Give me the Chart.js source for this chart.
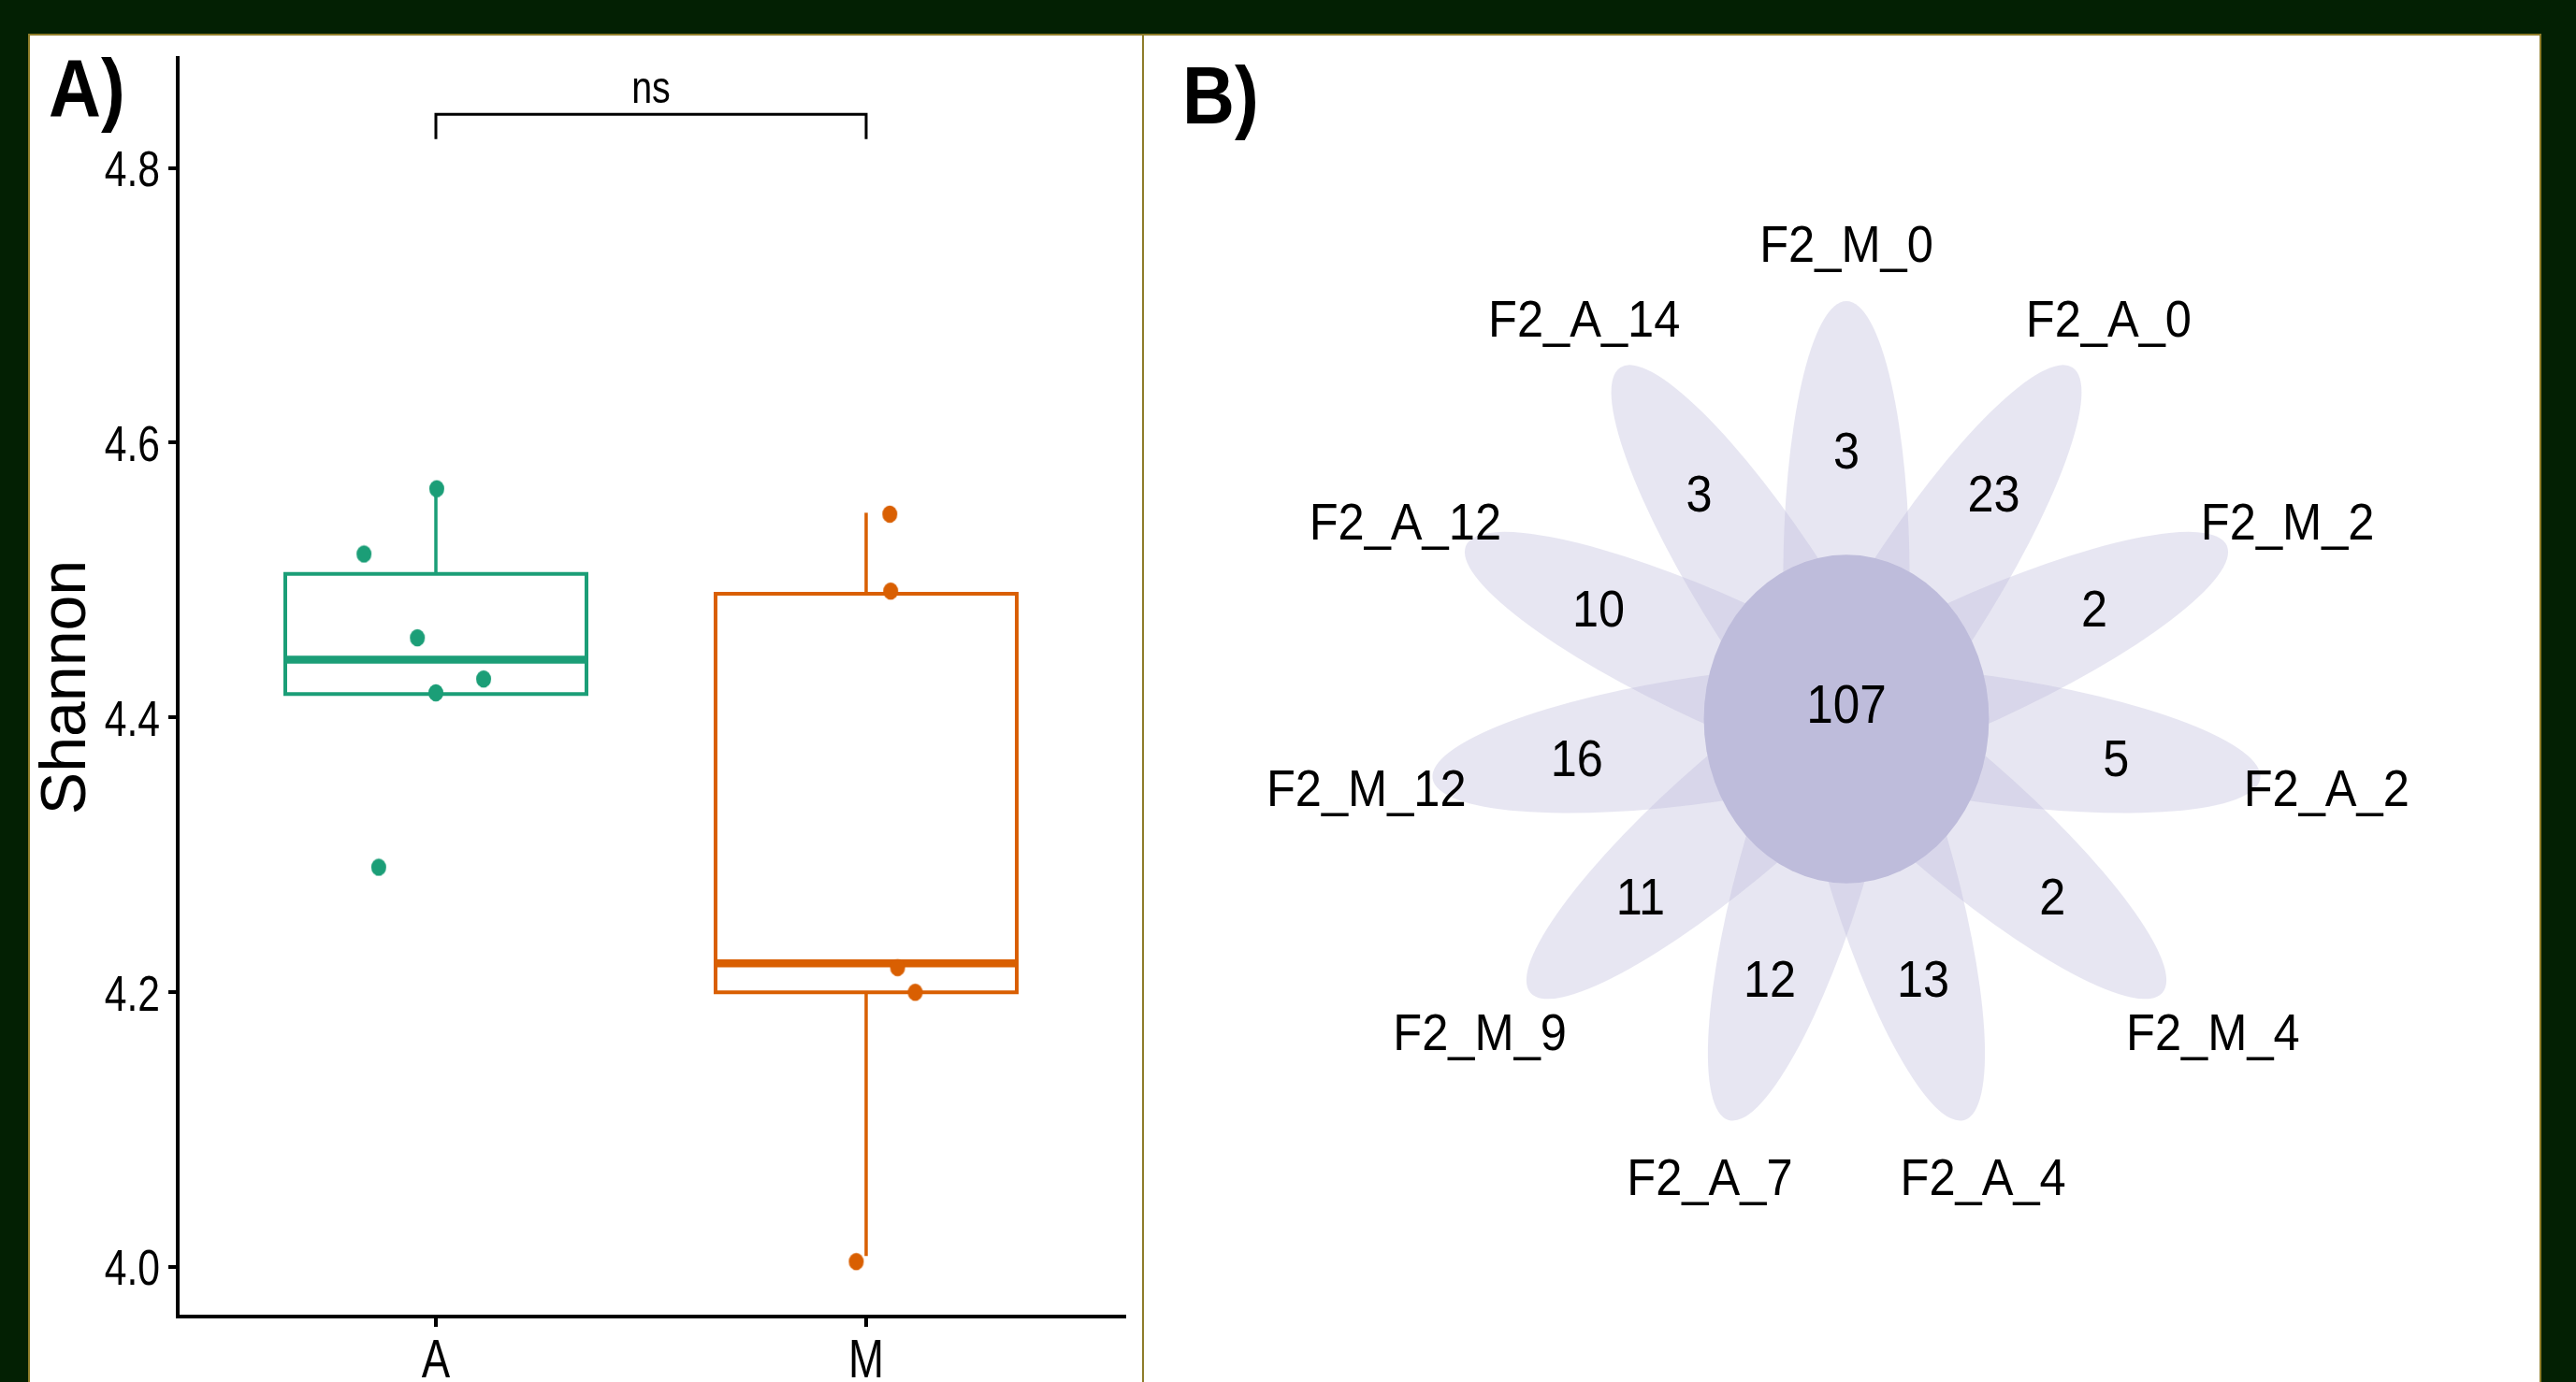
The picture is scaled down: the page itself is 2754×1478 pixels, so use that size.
<!DOCTYPE html>
<html><head><meta charset="utf-8">
<script src="https://cdn.jsdelivr.net/npm/chart.js@4.4.1/dist/chart.umd.min.js"></script>
<style>
html,body{margin:0;padding:0;background:#032003;width:2754px;height:1478px;overflow:hidden;}
#panel{position:absolute;left:30px;top:36px;width:2683px;height:1500px;background:#fff;border:2px solid #8f7d2a;}
#divider{position:absolute;left:1221px;top:37px;width:2px;height:1460px;background:#8f7d2a;}
#cA{position:absolute;left:0;top:0;}
#cB{position:absolute;left:1224px;top:0;}
</style></head><body>
<div id="panel"></div><div id="divider"></div>
<canvas id="cA" width="1222" height="1478"></canvas>
<canvas id="cB" width="1492" height="1478"></canvas>
<script>
// ---------------- data: panel A (Shannon boxplot) ----------------
const groups = ['A', 'M'];
const yTicks = [4.0, 4.2, 4.4, 4.6, 4.8];
const q1 = [4.417, 4.200];
const medians = [4.442, 4.221];
const q3 = [4.5045, 4.490];
const whiskerLo = [4.417, 4.008];
const whiskerHi = [4.566, 4.549];
const shannonA = [4.519, 4.5665, 4.458, 4.428, 4.418, 4.291];
const jitterA = [-0.167, 0.002, -0.043, 0.111, 0.0, -0.133];
const shannonM = [4.548, 4.492, 4.218, 4.200, 4.004];
const jitterM = [0.055, 0.057, 0.073, 0.114, -0.023];
const sigLabel = 'ns';
const sigY = [4.821, 4.839];

// ---------------- data: panel B (flower / Venn) ----------------
const petalNames = ['F2_M_0','F2_A_0','F2_M_2','F2_A_2','F2_M_4','F2_A_4','F2_A_7','F2_M_9','F2_M_12','F2_A_12','F2_A_14'];
const petalCounts = [3, 23, 2, 5, 2, 13, 12, 11, 16, 10, 3];
const coreCount = 107;

// ---------------- helpers ----------------
const SANS = "'Liberation Sans', Arial, sans-serif";

function squashText(ctx, text, x, y, font, align, sx, baseline){
  ctx.save();
  ctx.font = font;
  ctx.fillStyle = '#000';
  ctx.textAlign = align;
  ctx.textBaseline = baseline || 'alphabetic';
  ctx.translate(x, y);
  ctx.scale(sx, 1);
  ctx.fillText(text, 0, 0);
  ctx.restore();
}
function dotImage(color){
  const c = document.createElement('canvas');
  c.width = 18; c.height = 20;
  const g = c.getContext('2d');
  g.fillStyle = color;
  g.beginPath(); g.ellipse(9, 10, 8, 9.3, 0, 0, Math.PI * 2); g.fill();
  return c;
}

// ---------------- panel A ----------------
const colors = ['#1b9e77', '#d95f02'];
const halfBox = 0.35;
const datasetsA = [];
const pointSets = [[shannonA, jitterA], [shannonM, jitterM]];
groups.forEach((g, gi) => {
  const cx = gi + 1;
  const col = colors[gi];
  const vals = pointSets[gi][0], jit = pointSets[gi][1];
  datasetsA.push({
    label: g + ' points', order: 0, showLine: false,
    data: vals.map((v, k) => ({x: cx + jit[k], y: v})),
    pointStyle: dotImage(col), pointRadius: 9, backgroundColor: col, borderWidth: 0
  });
  const lineBase = {showLine: true, pointRadius: 0, borderColor: col, borderWidth: 4,
    borderCapStyle: 'butt', borderJoinStyle: 'miter', tension: 0, fill: false, order: 1};
  datasetsA.push(Object.assign({}, lineBase, {label: g + ' box', data: [
    {x: cx, y: q1[gi]}, {x: cx + halfBox, y: q1[gi]}, {x: cx + halfBox, y: q3[gi]},
    {x: cx - halfBox, y: q3[gi]}, {x: cx - halfBox, y: q1[gi]}, {x: cx, y: q1[gi]}]}));
  datasetsA.push(Object.assign({}, lineBase, {label: g + ' median', borderWidth: 8.5, data: [
    {x: cx - halfBox, y: medians[gi]}, {x: cx + halfBox, y: medians[gi]}]}));
  datasetsA.push(Object.assign({}, lineBase, {label: g + ' upper whisker', borderWidth: 3.5, data: [
    {x: cx, y: q3[gi]}, {x: cx, y: whiskerHi[gi]}]}));
  if (whiskerLo[gi] < q1[gi]) {
    datasetsA.push(Object.assign({}, lineBase, {label: g + ' lower whisker', borderWidth: 3.5, data: [
      {x: cx, y: whiskerLo[gi]}, {x: cx, y: q1[gi]}]}));
  }
});
datasetsA.push({label: 'bracket', order: 1, showLine: true, pointRadius: 0, borderColor: '#000', borderWidth: 3,
  borderJoinStyle: 'miter', tension: 0, fill: false,
  data: [{x: 1, y: sigY[0]}, {x: 1, y: sigY[1]}, {x: 2, y: sigY[1]}, {x: 2, y: sigY[0]}]});

// the axis tick labels are the scales' own ticks, rendered in a condensed face
const decoA = {
  id: 'decoA',
  afterDraw(chart){
    const ctx = chart.ctx;
    const xs = chart.scales.x, ys = chart.scales.y;
    ys.ticks.forEach(t => {
      squashText(ctx, t.label, ys.right - 19, ys.getPixelForValue(t.value) + 19.3, '54px ' + SANS, 'right', 0.79);
    });
    xs.ticks.forEach(t => {
      squashText(ctx, t.label, xs.getPixelForValue(t.value), xs.top + 65, '57px ' + SANS, 'center', 0.8);
    });
    squashText(ctx, sigLabel, xs.getPixelForValue(1.5), ys.getPixelForValue(4.847), '48px ' + SANS, 'center', 0.82);
    squashText(ctx, 'A)', 52, 124, 'bold 88px ' + SANS, 'left', 0.88);
  }
};

new Chart(document.getElementById('cA'), {
  type: 'scatter',
  data: {datasets: datasetsA},
  options: {
    responsive: false, animation: false, events: [],
    layout: {padding: {left: 0, top: 62, right: 20, bottom: 0}},
    plugins: {legend: {display: false}, tooltip: {enabled: false}},
    scales: {
      x: {
        type: 'linear', min: 0.4, max: 2.6,
        afterBuildTicks: s => { s.ticks = groups.map((g, i) => ({value: i + 1})); },
        afterFit: s => { s.height = 70; },
        ticks: {callback: v => groups[Math.round(v) - 1], autoSkip: false, maxRotation: 0,
          color: 'rgba(0,0,0,0)', padding: 5, font: {family: SANS, size: 57, lineHeight: 1}},
        grid: {drawOnChartArea: false, drawTicks: true, tickLength: 11, color: '#000', lineWidth: 4},
        border: {display: true, color: '#000', width: 4}
      },
      y: {
        type: 'linear', min: 3.964, max: 4.880,
        afterBuildTicks: s => { s.ticks = yTicks.map(v => ({value: v})); },
        afterFit: s => { s.width = 190; },
        ticks: {callback: v => Number(v).toFixed(1), color: 'rgba(0,0,0,0)', padding: 9,
          font: {family: SANS, size: 54, lineHeight: 1}},
        grid: {drawOnChartArea: false, drawTicks: true, tickLength: 10, color: '#000', lineWidth: 4},
        border: {display: true, color: '#000', width: 4},
        title: {display: true, text: 'Shannon', color: '#000',
          font: {family: SANS, size: 68, lineHeight: 1}, padding: {top: 38, bottom: 0}}
      }
    }
  },
  plugins: [decoA]
});

// ---------------- panel B ----------------
const UNIT = 149;                 // pixels per flower unit
const CX = 750, CY = 769;         // flower centre inside canvas B
const W_B = 1492, H_B = 1478;
const petalOffset = 1.0, petalMajor = 2.0, petalMinor = 0.454;
const coreRx = 1.023, coreRy = 1.179;
const numberRx = 1.955, numberRy = 1.935;
const nameRx = 3.48, nameRy = 3.42;
const textDrop = 5;               // px: optical vertical centring of text
const nPetals = petalNames.length;
const petalAngle = i => (90 - i * 360 / nPetals) * Math.PI / 180;

const flower = {
  id: 'flower',
  beforeDatasetsDraw(chart){
    const ctx = chart.ctx;
    const xs = chart.scales.x, ys = chart.scales.y;
    const px = (x) => xs.getPixelForValue(x), py = (y) => ys.getPixelForValue(y);
    const ux = px(1) - px(0), uy = py(0) - py(1);
    ctx.save();
    for (let i = 0; i < nPetals; i++) {
      const t = petalAngle(i);
      ctx.beginPath();
      ctx.fillStyle = 'rgba(188,185,218,0.36)';
      ctx.ellipse(px(petalOffset * Math.cos(t)), py(petalOffset * Math.sin(t)),
        petalMajor * ux, petalMinor * uy, -t, 0, Math.PI * 2);
      ctx.fill();
    }
    ctx.beginPath();
    ctx.fillStyle = '#bebcdb';
    ctx.ellipse(px(0), py(0), coreRx * ux, coreRy * uy, 0, 0, Math.PI * 2);
    ctx.fill();
    ctx.restore();
  },
  afterDatasetsDraw(chart){
    const ctx = chart.ctx;
    const xs = chart.scales.x, ys = chart.scales.y;
    const meta = chart.getDatasetMeta(0);
    meta.data.forEach((el, i) => {
      squashText(ctx, String(petalCounts[i]), el.x, el.y + textDrop, '56px ' + SANS, 'center', 0.9, 'middle');
    });
    for (let i = 0; i < nPetals; i++) {
      const t = petalAngle(i);
      squashText(ctx, petalNames[i], xs.getPixelForValue(nameRx * Math.cos(t)),
        ys.getPixelForValue(nameRy * Math.sin(t)) + textDrop, '55px ' + SANS, 'center', 0.92, 'middle');
    }
    squashText(ctx, String(coreCount), xs.getPixelForValue(0), ys.getPixelForValue(0.11) + textDrop, '57px ' + SANS, 'center', 0.9, 'middle');
    squashText(ctx, 'B)', 40, 132, 'bold 88px ' + SANS, 'left', 0.88);
  }
};

new Chart(document.getElementById('cB'), {
  type: 'scatter',
  data: {datasets: [{
    label: 'unique OTUs',
    data: petalCounts.map((c, i) => ({x: numberRx * Math.cos(petalAngle(i)), y: numberRy * Math.sin(petalAngle(i)), count: c})),
    pointRadius: 0
  }]},
  options: {
    responsive: false, animation: false, events: [],
    layout: {padding: 0},
    plugins: {legend: {display: false}, tooltip: {enabled: false}},
    scales: {
      x: {type: 'linear', display: false, min: -CX / UNIT, max: (W_B - CX) / UNIT},
      y: {type: 'linear', display: false, min: -(H_B - CY) / UNIT, max: CY / UNIT}
    }
  },
  plugins: [flower]
});
</script>
</body></html>
